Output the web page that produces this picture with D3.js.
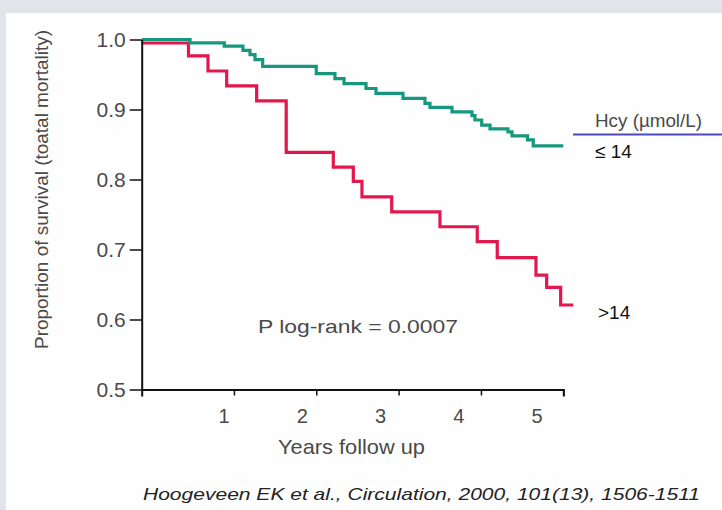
<!DOCTYPE html>
<html><head><meta charset="utf-8">
<script src="https://cdn.jsdelivr.net/npm/d3@7"></script>
<style>html,body{margin:0;padding:0;background:#fff;}svg{display:block;font-family:"Liberation Sans",Arial,sans-serif;}</style>
</head><body>
<svg id="c" width="722" height="510"></svg>
<script>
// ---- data ----
const yTicks = [0.5, 0.6, 0.7, 0.8, 0.9, 1.0];
const xTicks = [1, 2, 3, 4, 5];
// Kaplan-Meier step curves: [time (years), survival proportion]
const lowHcy = [[-0.12,1.0],[0.467,0.9953],[0.883,0.9905],[1.110,0.9844],[1.195,0.9783],[1.256,0.9712],[1.349,0.9616],
  [2.0,0.9513],[2.227,0.9442],[2.337,0.9371],[2.604,0.930],[2.725,0.9229],[3.053,0.9158],[3.320,0.9087],[3.381,0.903],
  [3.648,0.8967],[3.891,0.8913],[3.927,0.885],[4.009,0.8778],[4.110,0.8724],[4.328,0.8679],[4.377,0.8622],[4.565,0.8565],
  [4.635,0.848],[5.0,0.848]];
const highHcy = [[-0.12,0.995],[0.448,0.9766],[0.685,0.955],[0.912,0.9337],[1.276,0.9124],[1.635,0.8388],[2.207,0.8178],
  [2.450,0.7973],[2.555,0.7751],[2.916,0.7538],[3.502,0.7325],[3.955,0.7112],[4.198,0.6885],[4.668,0.6634],[4.798,0.6459],
  [4.968,0.6207],[5.121,0.6207]];
const texts = {
  yLabel: "Proportion of survival (toatal mortality)",
  xLabel: "Years follow up",
  legendTitle: "Hcy (\u00b5mol/L)",
  low: "\u2264 14",
  high: ">14",
  pval: "P log-rank = 0.0007",
  cite: "Hoogeveen EK et al., Circulation, 2000, 101(13), 1506-1511"
};

const svg = d3.select("#c");
// frame background
svg.append("rect").attr("width",722).attr("height",510).attr("fill","#e1e4e9");
svg.append("rect").attr("x",6).attr("y",13).attr("width",716).attr("height",497).attr("fill","#fefefe");

const x = d3.scaleLinear().domain([-0.12, 5]).range([141.7, 563.3]);
const y = d3.scaleLinear().domain([0.5, 1.0]).range([389.5, 39.5]);
const xLab = d3.scaleLinear().domain([1, 5]).range([224, 537]);

const textCol = "#4a4a4a";

// curves
const line = d3.line().x(d=>x(d[0])).y(d=>y(d[1])).curve(d3.curveStepAfter);
svg.append("path").datum(highHcy).attr("d",line).attr("fill","none").attr("stroke","#e2174e").attr("stroke-width",3.2);
svg.append("path").datum(lowHcy).attr("d",line).attr("fill","none").attr("stroke","#16977e").attr("stroke-width",3.2);

// y axis
const ya = svg.append("g").attr("transform",`translate(${x(-0.12)},0)`)
  .call(d3.axisLeft(y).tickValues(yTicks).tickFormat(d3.format(".1f")).tickSize(12).tickSizeOuter(0).tickPadding(4));
ya.select(".domain").attr("stroke","#111").attr("stroke-width",2);
ya.selectAll(".tick line").attr("stroke","#111").attr("stroke-width",1.5);
ya.selectAll(".tick text").attr("font-size",21).attr("fill",textCol).attr("font-family","Liberation Sans, Arial, sans-serif");

// x axis
const xa = svg.append("g").attr("transform",`translate(0,${y(0.5)})`)
  .call(d3.axisBottom(x).tickValues(xTicks).tickSize(6).tickSizeOuter(7).tickFormat(""));
xa.select(".domain").attr("stroke","#111").attr("stroke-width",2);
xa.selectAll(".tick line").attr("stroke","#111").attr("stroke-width",1.5);
svg.append("g").selectAll("text").data(xTicks).join("text")
  .attr("x",d=>xLab(d)).attr("y",y(0.5)+33).attr("text-anchor","middle")
  .attr("font-size",20).attr("fill",textCol).text(d=>d);

// axis titles
svg.append("text").attr("x",278).attr("y",454).attr("textLength",147).attr("lengthAdjust","spacingAndGlyphs")
  .attr("font-size",21).attr("fill",textCol).text(texts.xLabel);
svg.append("text").attr("transform","translate(48,349) rotate(-90)").attr("textLength",319).attr("lengthAdjust","spacingAndGlyphs")
  .attr("font-size",17.5).attr("fill",textCol).text(texts.yLabel);

// legend
svg.append("line").attr("x1",573).attr("x2",722).attr("y1",134.5).attr("y2",134.5).attr("stroke","#4a4ab8").attr("stroke-width",2);
svg.append("text").attr("x",595).attr("y",127).attr("textLength",107).attr("lengthAdjust","spacingAndGlyphs")
  .attr("font-size",17.5).attr("fill",textCol).text(texts.legendTitle);
svg.append("text").attr("x",595).attr("y",158).attr("font-size",19).attr("fill","#111").text(texts.low);
svg.append("text").attr("x",598).attr("y",319).attr("font-size",19).attr("fill","#111").text(texts.high);

// p-value
svg.append("text").attr("x",258).attr("y",333).attr("textLength",200).attr("lengthAdjust","spacingAndGlyphs")
  .attr("font-size",19).attr("fill",textCol).text(texts.pval);

// citation
svg.append("text").attr("x",143).attr("y",500).attr("textLength",557).attr("lengthAdjust","spacingAndGlyphs")
  .attr("font-size",17).attr("font-style","italic").attr("fill","#222").text(texts.cite);
</script>
</body></html>
